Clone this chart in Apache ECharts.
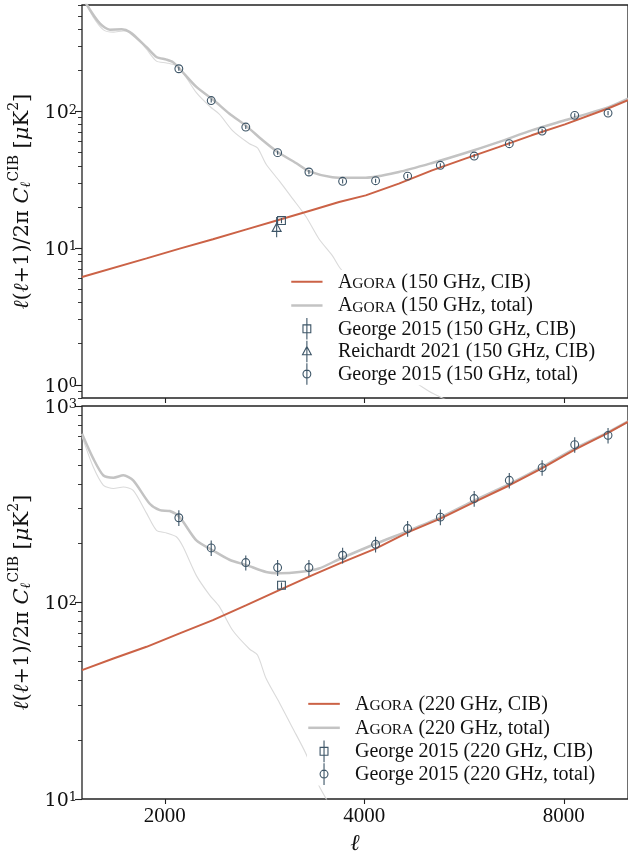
<!DOCTYPE html>
<html><head><meta charset="utf-8">
<script src="https://cdn.jsdelivr.net/npm/echarts@6/dist/echarts.min.js"></script>
<style>html,body{margin:0;padding:0;background:#fff}#c{width:628px;height:857px}</style>
</head><body><div id="c"></div>
<script>
// ---------- data ----------
const xTicks = [2000, 4000, 8000];
const yMajorTop = [1, 10, 100];
const yMinorTop = [0.8, 0.9, 2, 3, 4, 5, 6, 7, 8, 9, 20, 30, 40, 50, 60, 70, 80, 90, 200, 300, 400, 500, 600];
const yMajorBot = [10, 100, 1000];
const yMinorBot = [20, 30, 40, 50, 60, 70, 80, 90, 200, 300, 400, 500, 600, 700, 800, 900];

// thin grey line (same in both panels)
const cmbL = [1500,1560,1616,1673,1732,1792,1877,1943,2012,2082,2131,2232,2337,2419,2533,2684,2760,2844,2977,3118,3266,3416,3580,3665,3838,4020,4350,4670,5000,5400];
const cmbV = [700,489,395,380,387,372,285,233,226,216,192,137,109,95,72,58,54,41,31,23,17,11.7,8.8,7.3,5.5,3.6,2.0,1.15,0.9,0.75];

// AGORA 150 GHz CIB
const cib150L = [1500,1877,2106,2364,2656,2977,3341,3665,4020,4510,5062,5681,6376,7154,8031,9328,10000];
const cib150V = [6.15,8.4,9.9,11.6,13.7,16.1,19.0,21.7,24.3,29.6,37.0,45.1,54.8,66.8,80.3,105,121];
// AGORA 150 GHz total
const tot150L = [1500,1526,1597,1653,1722,1771,1877,1943,2012,2058,2106,2232,2364,2504,2656,2810,2960,3155,3304,3580,3794,4020,4510,5062,5681,6376,7154,8031,9328,10000];
const tot150V = [720,600,438,396,398,380,295,250,239,229,205,151,122,96,78,61.4,50.4,41.9,36.4,33,32.7,32.7,36,41.9,49.6,59.6,72.6,86,107,124];

// AGORA 220 GHz CIB
const cib220L = [1500,1673,1877,2106,2364,2656,2977,3341,3665,4161,4670,5210,5860,6616,7400,8312,9328,10000];
const cib220V = [45.3,51.9,59.5,69.6,81.3,96.9,115.5,137.7,157.8,188,228.6,267,324,394,480,600,729,830];
// AGORA 220 GHz total
const tot220L = [1500,1560,1616,1673,1732,1792,1898,1966,2035,2106,2232,2364,2504,2656,2844,2977,3191,3416,3665,4161,4670,5210,5860,6616,7400,8312,9328,10000];
const tot220V = [723,540,443,432,444,418,318,295,292,272,207,184,165,155,143,141,143,149,166,199,232,271,330,400,487,607,735,835];

// George 2015 total bandpowers
const georgeL = [2100,2350,2650,2960,3300,3710,4160,4650,5210,5860,6620,7420,8310,9330];
const george150Tot = [205,120,76.8,49.9,36.0,30.8,31.1,33.6,40.3,47.1,58.0,71.8,93.5,97.2];
const george150TotErr = [7,4,2.5,1.7,1.3,1.1,1.1,1.2,1.4,1.7,2.1,2.6,3.4,3.6];
const george220Tot = [270,189.5,159.7,150.6,150.6,174,197.8,237.8,272,338,418.6,485.6,635.7,708.8];
const george220TotErr = [25,17,14,14,14,16,18,22,25,31,38,44,58,65];

// CIB-only points
const george150CibL = [3000];
const george150CibV = [15.9];
const george150CibErr = [0.7];
const reich150L = [2950];
const reich150V = [14.0];
const reich150Lo = [2.0];
const reich150Hi = [2.9];
const george220CibL = [3000];
const george220CibV = [122.5];
const george220CibErr = [4];

// ---------- styling ----------
const RED = '#cb6246';
const GREY = '#c3c3c3';
const THIN = '#dadada';
const MC = '#3d5567';
const SERIF = 'Liberation Serif, Times New Roman, serif';
const MATH = 'DejaVu Serif, serif';

const names = {
  c150: 'AGORA (150 GHz, CIB)', t150: 'AGORA (150 GHz, total)',
  g150c: 'George 2015 (150 GHz, CIB)', r150: 'Reichardt 2021 (150 GHz, CIB)',
  g150t: 'George 2015 (150 GHz, total)',
  c220: 'AGORA (220 GHz, CIB)', t220: 'AGORA (220 GHz, total)',
  g220c: 'George 2015 (220 GHz, CIB)', g220t: 'George 2015 (220 GHz, total)'
};

function zip(L, V) { return L.map((l, i) => [l, V[i]]); }

function lineSeries(name, L, V, color, width, idx, z, smooth) {
  return { type: 'line', name: name, xAxisIndex: idx, yAxisIndex: idx * 2, data: zip(L, V),
    symbol: 'none', smooth: smooth, z: z,
    lineStyle: { color: color, width: width }, itemStyle: { color: color }, silent: true };
}

function errSeries(name, L, V, lo, hi, shape, idx) {
  return {
    type: 'custom', name: name, xAxisIndex: idx, yAxisIndex: idx * 2, z: 10,
    itemStyle: { color: MC },
    data: L.map((l, i) => [l, V[i], V[i] - lo[i], V[i] + hi[i]]),
    encode: { x: 0, y: 1 },
    renderItem: function (params, api) {
      const c = api.coord([api.value(0), api.value(1)]);
      const a = api.coord([api.value(0), api.value(2)]);
      const b = api.coord([api.value(0), api.value(3)]);
      const st = { stroke: MC, lineWidth: 1.1, fill: 'rgba(255,255,255,0)' };
      const r = 3.9;
      const ch = [{ type: 'line', shape: { x1: c[0], y1: a[1], x2: c[0], y2: b[1] }, style: { stroke: MC, lineWidth: 1.1 } }];
      if (shape === 'circle') ch.push({ type: 'circle', shape: { cx: c[0], cy: c[1], r: r }, style: st });
      else if (shape === 'rect') ch.push({ type: 'rect', shape: { x: c[0] - r, y: c[1] - r, width: 2 * r, height: 2 * r }, style: st });
      else ch.push({ type: 'polygon', shape: { points: [[c[0], c[1] - r * 1.25], [c[0] + r * 1.15, c[1] + r * 0.85], [c[0] - r * 1.15, c[1] + r * 0.85]] }, style: st });
      return { type: 'group', children: ch };
    }
  };
}

const ICON_LINE = 'path://M0,0L0,0M0,11L32,11M0,22L0,22';
const ICON_CIRC = 'path://M0,11L0,11M32,11L32,11M16,0L16,22M12,11A4,4,0,1,0,20,11A4,4,0,1,0,12,11Z';
const ICON_RECT = 'path://M0,11L0,11M32,11L32,11M16,0L16,22M12,7L20,7L20,15L12,15Z';
const ICON_TRI = 'path://M0,11L0,11M32,11L32,11M16,0L16,22M16,6L20.5,14.5L11.5,14.5Z';

function legItem(name, icon, color, w) {
  return { name: name, icon: icon, itemStyle: { color: 'transparent', borderColor: color, borderWidth: w } };
}

function legFmt(name) {
  if (name.indexOf('AGORA') === 0) return '{g| }{t|A}{sc|GORA}{t|' + name.slice(5) + '}';
  return '{g| }{t|' + name + '}';
}
const legRich = {
  g: { width: 10, fontSize: 10 },
  t: { fontFamily: SERIF, fontSize: 20, lineHeight: 21, verticalAlign: 'bottom', color: '#111' },
  sc: { fontFamily: SERIF, fontSize: 15.5, lineHeight: 21, verticalAlign: 'bottom', color: '#111' }
};

function yLabFmt(v) {
  const e = Math.round(Math.log10(v));
  return '{b|10}{s|' + e + '}';
}
const yLabRich = {
  b: { fontFamily: MATH, fontSize: 19, lineHeight: 19, verticalAlign: 'bottom', color: '#111' },
  s: { fontFamily: MATH, fontSize: 13, lineHeight: 13, verticalAlign: 'top', padding: [0, 0, 11, 0], color: '#111' }
};

const yName = '{i|ℓ}{n|(}{i|ℓ}{n|+1)/2π }{i|C}{sub|ℓ}{sup|CIB}{n| [}{i|μ}{n|K}{sup|2}{n|]}';
const yNameRich = {
  n: { fontFamily: MATH, fontSize: 21, lineHeight: 26, verticalAlign: 'bottom', color: '#111' },
  i: { fontFamily: MATH, fontSize: 21, lineHeight: 26, verticalAlign: 'bottom', fontStyle: 'italic', color: '#111' },
  sup: { fontFamily: MATH, fontSize: 14, lineHeight: 14, verticalAlign: 'top', color: '#111' },
  sub: { fontFamily: MATH, fontSize: 14, lineHeight: 14, verticalAlign: 'bottom', fontStyle: 'italic', color: '#111' }
};

function xAxis(idx, showLabels) {
  return {
    type: 'log', gridIndex: idx, min: 1500, max: 10000, logBase: 10,
    axisLine: { show: false }, splitLine: { show: false }, minorTick: { show: false },
    axisTick: { show: true, inside: false, length: 5, customValues: xTicks, lineStyle: { color: '#222', width: 1.1 } },
    axisLabel: { show: showLabels, customValues: xTicks, margin: 7, fontFamily: SERIF, fontSize: 21, color: '#111',
      formatter: v => String(Math.round(v)) },
    name: showLabels ? 'ℓ' : '', nameLocation: 'middle', nameGap: 33, nameMoveOverlap: false,
    nameTextStyle: { fontFamily: SERIF, fontSize: 23, fontStyle: 'italic', color: '#111' }
  };
}

function yAxes(idx, min, max, major, minor) {
  return [{
    type: 'log', gridIndex: idx, min: min, max: max, logBase: 10, position: 'left',
    axisLine: { show: false }, splitLine: { show: false }, minorTick: { show: false },
    axisTick: { show: true, length: 7, customValues: major, lineStyle: { color: '#222', width: 1.1 } },
    axisLabel: { customValues: major, formatter: yLabFmt, rich: yLabRich, margin: 5, padding: [4, 0, 0, 0] },
    name: yName, nameLocation: 'middle', nameGap: 49, nameRotate: 90, nameMoveOverlap: false,
    nameTextStyle: { rich: yNameRich }
  }, {
    type: 'log', gridIndex: idx, min: min, max: max, logBase: 10, position: 'left',
    axisLine: { show: false }, splitLine: { show: false }, minorTick: { show: false },
    axisTick: { show: true, length: 4, customValues: minor, lineStyle: { color: '#222', width: 0.9 } },
    axisLabel: { show: false, customValues: minor }
  }];
}

const option = {
  animation: false,
  backgroundColor: '#fff',
  grid: [
    { left: 82, right: 0, top: 5, height: 393, show: true, borderColor: '#222', borderWidth: 1.3, backgroundColor: 'transparent', outerBoundsMode: 'none', containLabel: false },
    { left: 82, right: 0, top: 406, height: 393, show: true, borderColor: '#222', borderWidth: 1.3, backgroundColor: 'transparent', outerBoundsMode: 'none', containLabel: false }
  ],
  xAxis: [xAxis(0, false), xAxis(1, true)],
  yAxis: yAxes(0, 0.8, 600, yMajorTop, yMinorTop).concat(yAxes(1, 10, 1000, yMajorBot, yMinorBot)),
  legend: [{
    orient: 'vertical', left: 290, top: 270, itemWidth: 32, itemHeight: 21.5, itemGap: 0, padding: 0,
    backgroundColor: '#fff', selectedMode: false, formatter: legFmt, textStyle: { rich: legRich },
    data: [legItem(names.c150, ICON_LINE, RED, 2), legItem(names.t150, ICON_LINE, GREY, 2.5),
      legItem(names.g150c, ICON_RECT, MC, 1.1), legItem(names.r150, ICON_TRI, MC, 1.1), legItem(names.g150t, ICON_CIRC, MC, 1.1)]
  }, {
    orient: 'vertical', left: 307, top: 692, itemWidth: 32, itemHeight: 21.7, itemGap: 0, padding: 0,
    backgroundColor: '#fff', selectedMode: false, formatter: legFmt, textStyle: { rich: legRich },
    data: [legItem(names.c220, ICON_LINE, RED, 2), legItem(names.t220, ICON_LINE, GREY, 2.5),
      legItem(names.g220c, ICON_RECT, MC, 1.1), legItem(names.g220t, ICON_CIRC, MC, 1.1)]
  }],
  series: [
    lineSeries('cmb150', cmbL, cmbV, THIN, 1.1, 0, 2, 0.25),
    lineSeries(names.t150, tot150L, tot150V, GREY, 2.5, 0, 3, 0.25),
    lineSeries(names.c150, cib150L, cib150V, RED, 2, 0, 4, false),
    errSeries(names.g150c, george150CibL, george150CibV, george150CibErr, george150CibErr, 'rect', 0),
    errSeries(names.r150, reich150L, reich150V, reich150Lo, reich150Hi, 'tri', 0),
    errSeries(names.g150t, georgeL, george150Tot, george150TotErr, george150TotErr, 'circle', 0),
    lineSeries('cmb220', cmbL, cmbV, THIN, 1.1, 1, 2, 0.25),
    lineSeries(names.t220, tot220L, tot220V, GREY, 2.5, 1, 3, 0.25),
    lineSeries(names.c220, cib220L, cib220V, RED, 2, 1, 4, false),
    errSeries(names.g220c, george220CibL, george220CibV, george220CibErr, george220CibErr, 'rect', 1),
    errSeries(names.g220t, georgeL, george220Tot, george220TotErr, george220TotErr, 'circle', 1)
  ]
};
const chart = echarts.init(document.getElementById('c'), null, { renderer: 'canvas' });
chart.setOption(option);
</script>
</body></html>
